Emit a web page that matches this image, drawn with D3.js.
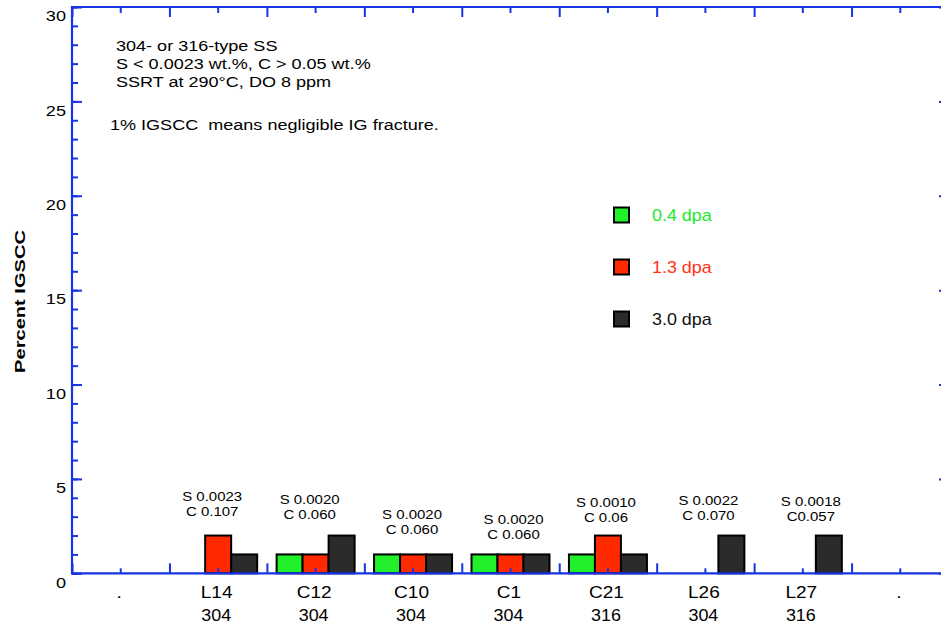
<!DOCTYPE html>
<html>
<head>
<meta charset="utf-8">
<script src="https://cdn.jsdelivr.net/npm/d3@7"></script>
<style>
  html, body { margin: 0; padding: 0; background: #fff; }
  svg { display: block; }
  text { font-family: "Liberation Sans", Arial, Helvetica, sans-serif; }
</style>
</head>
<body>
<svg id="chart" width="941" height="627"></svg>
<script>
// ---------------- data ----------------
const categories = [".", "L14", "C12", "C10", "C1", "C21", "L26", "L27", "."];
const alloyTypes = ["", "304", "304", "304", "304", "316", "304", "316", ""];
const sulfurLabels = ["", "S 0.0023", "S 0.0020", "S 0.0020", "S 0.0020", "S 0.0010", "S 0.0022", "S 0.0018", ""];
const carbonLabels = ["", "C 0.107", "C 0.060", "C 0.060", "C 0.060", "C 0.06", "C 0.070", "C0.057", ""];
const seriesNames = ["0.4 dpa", "1.3 dpa", "3.0 dpa"];
const dpa04 = [null, null, 1, 1, 1, 1, null, null, null];
const dpa13 = [null, 2, 1, 1, 1, 2, null, null, null];
const dpa30 = [null, 1, 2, 1, 1, 1, 2, 2, null];
const yMajorTicks = [0, 5, 10, 15, 20, 25, 30];
const yMinorTicks = d3.range(0, 31, 1);
const yTitle = "Percent IGSCC";
const noteLines = ["304- or 316-type SS", "S < 0.0023 wt.%, C > 0.05 wt.%", "SSRT at 290°C, DO 8 ppm"];
const footNote = "1% IGSCC  means negligible IG fracture.";

// ---------------- layout ----------------
const W = 941, H = 627;
const pL = 72, pR = 949, pT = 7, pB = 573.3;
const axisColor = "#1733e6";
const fills = ["#22f02a", "#ff2a00", "#2b2b2b"];
const legendTextColors = ["#22e82a", "#ff3314", "#111111"];
// per-category offsets of the composition notes (pixel layout)
const noteDx = [0, -6, -6, -1, 3, -2, 3, 8, 0];
const noteBaseline = [0, 500.7, 504, 519.3, 524, 507.3, 505, 505.7, 0];

const svg = d3.select("#chart");
svg.append("rect").attr("width", W).attr("height", H).attr("fill", "#fff");

const idx = d3.range(categories.length);
const x = d3.scaleBand().domain(idx).range([pL, pR]).padding(0);
const xEdge = d3.scaleLinear().domain([0, categories.length]).range([pL, pR]);
const sub = d3.scaleBand().domain([0, 1, 2]).range([-39, 39]).padding(0);
const y = d3.scaleLinear().domain([0, 30]).range([pB, pT]);

function stretchText(sel, sx) {
  sel.each(function () {
    const t = d3.select(this);
    const tx = +t.attr("x") || 0, ty = +t.attr("y") || 0;
    t.attr("x", 0).attr("y", 0)
     .attr("transform", `translate(${tx},${ty}) scale(${sx},1)`);
  });
}

// ---------------- bars ----------------
const series = [dpa04, dpa13, dpa30];
const barData = [];
series.forEach((vals, s) => vals.forEach((v, i) => { if (v != null) barData.push({ i, s, v }); }));
svg.append("g").selectAll("rect").data(barData).enter().append("rect")
  .attr("x", d => x(d.i) + x.bandwidth() / 2 + sub(d.s))
  .attr("width", sub.bandwidth())
  .attr("y", d => y(d.v))
  .attr("height", d => y(0) - y(d.v))
  .attr("fill", d => fills[d.s])
  .attr("stroke", "#000")
  .attr("stroke-width", 2);

// ---------------- axes ----------------
function styleAxis(g) {
  g.selectAll("path.domain").remove();
  g.selectAll(".tick line").attr("stroke", axisColor).attr("stroke-width", 2);
}
// left
const gLeftMinor = svg.append("g").attr("transform", `translate(${pL},0)`)
  .call(d3.axisLeft(y).tickValues(yMinorTicks).tickSize(-6).tickFormat(""));
styleAxis(gLeftMinor);
const gLeft = svg.append("g").attr("transform", `translate(${pL},0)`)
  .call(d3.axisLeft(y).tickValues(yMajorTicks).tickSize(-10).tickPadding(6));
styleAxis(gLeft);
gLeft.attr("font-family", null).attr("font-size", null);
gLeft.selectAll(".tick text")
  .attr("fill", "#000").attr("font-size", 15.5).attr("dy", null)
  .attr("x", -6).attr("y", 13.8).attr("text-anchor", "end")
  .call(stretchText, 1.17);

// right
const gRightMinor = svg.append("g").attr("transform", `translate(${pR},0)`)
  .call(d3.axisRight(y).tickValues(yMinorTicks).tickSize(-6).tickFormat(""));
styleAxis(gRightMinor);
const gRight = svg.append("g").attr("transform", `translate(${pR},0)`)
  .call(d3.axisRight(y).tickValues(yMajorTicks).tickSize(-10).tickFormat(""));
styleAxis(gRight);

// bottom
const gBottomMinor = svg.append("g").attr("transform", `translate(0,${pB})`)
  .call(d3.axisBottom(x).tickSize(-5).tickFormat(""));
styleAxis(gBottomMinor);
const gBottom = svg.append("g").attr("transform", `translate(0,${pB})`)
  .call(d3.axisBottom(xEdge).tickValues(d3.range(0, categories.length + 1)).tickSize(-10).tickFormat(""));
styleAxis(gBottom);

// top
const gTopMinor = svg.append("g").attr("transform", `translate(0,${pT})`)
  .call(d3.axisTop(x).tickSize(-6).tickFormat(""));
styleAxis(gTopMinor);
const gTop = svg.append("g").attr("transform", `translate(0,${pT})`)
  .call(d3.axisTop(xEdge).tickValues(d3.range(0, categories.length + 1)).tickSize(-10).tickFormat(""));
styleAxis(gTop);

// frame lines
const frame = svg.append("g").attr("stroke", axisColor).attr("stroke-width", 2.2).attr("fill", "none");
frame.append("line").attr("x1", pL).attr("x2", pL).attr("y1", pT - 1).attr("y2", pB + 1);
frame.append("line").attr("x1", pL - 1).attr("x2", pR).attr("y1", pT).attr("y2", pT);
frame.append("line").attr("x1", pL - 1).attr("x2", pR).attr("y1", pB).attr("y2", pB);
frame.append("line").attr("x1", pR).attr("x2", pR).attr("y1", pT).attr("y2", pB);

// category labels (two rows)
const labG = svg.append("g");
labG.selectAll("text.cat").data(idx).enter().append("text")
  .attr("class", "cat")
  .attr("x", i => x(i) + x.bandwidth() / 2 - 1.5)
  .attr("y", 598.3)
  .attr("text-anchor", "middle").attr("font-size", 17).attr("fill", "#000")
  .text(i => categories[i])
  .call(stretchText, 1.12);
labG.selectAll("text.typ").data(idx).enter().append("text")
  .attr("class", "typ")
  .attr("x", i => x(i) + x.bandwidth() / 2 - 2)
  .attr("y", 620.5)
  .attr("text-anchor", "middle").attr("font-size", 16).attr("fill", "#000")
  .text(i => alloyTypes[i])
  .call(stretchText, 1.12);

// composition notes above each group
const noteG = svg.append("g");
const noteIdx = idx.filter(i => sulfurLabels[i] !== "");
noteG.selectAll("text.s").data(noteIdx).enter().append("text")
  .attr("class", "s")
  .attr("x", i => x(i) + x.bandwidth() / 2 + noteDx[i])
  .attr("y", i => noteBaseline[i])
  .attr("text-anchor", "middle").attr("font-size", 13.5).attr("fill", "#000")
  .text(i => sulfurLabels[i])
  .call(stretchText, 1.11);
noteG.selectAll("text.c").data(noteIdx).enter().append("text")
  .attr("class", "c")
  .attr("x", i => x(i) + x.bandwidth() / 2 + noteDx[i])
  .attr("y", i => noteBaseline[i] + 15)
  .attr("text-anchor", "middle").attr("font-size", 13.5).attr("fill", "#000")
  .text(i => carbonLabels[i])
  .call(stretchText, 1.11);

// top-left notes
const tn = svg.append("g");
noteLines.forEach((t, k) => {
  tn.append("text").attr("x", 116).attr("y", 50.5 + k * 18)
    .attr("font-size", 14.5).attr("fill", "#000").text(t)
    .call(stretchText, 1.245);
});
tn.append("text").attr("x", 110).attr("y", 129.5)
  .attr("font-size", 14.5).attr("fill", "#000").style("white-space", "pre").text(footNote)
  .call(stretchText, 1.245);

// y title
svg.append("text")
  .attr("transform", `translate(25,301.5) rotate(-90) scale(1.34,1)`)
  .attr("text-anchor", "middle").attr("font-size", 15).attr("font-weight", "bold")
  .attr("fill", "#000").text(yTitle);

// legend
const legY = [215, 267, 319];
const leg = svg.append("g");
seriesNames.forEach((name, s) => {
  leg.append("rect").attr("x", 614).attr("y", legY[s] - 7.5).attr("width", 15).attr("height", 15)
    .attr("fill", fills[s]).attr("stroke", "#000").attr("stroke-width", 2);
  leg.append("text").attr("x", 652).attr("y", legY[s] + 5.8)
    .attr("font-size", 16).attr("fill", legendTextColors[s]).text(name)
    .call(stretchText, 1.12);
});
</script>
</body>
</html>
